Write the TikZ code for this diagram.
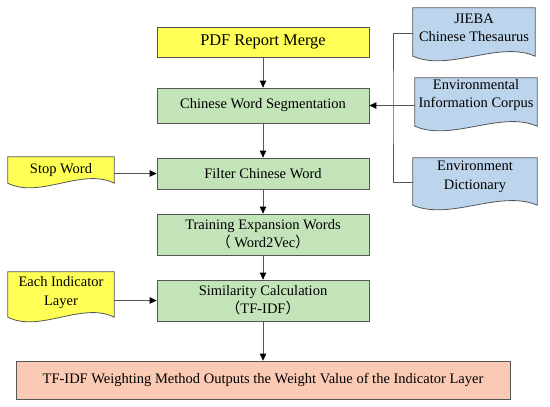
\documentclass[tikz,border=0pt]{standalone}
\usepackage{fontspec}
\setmainfont{Liberation Serif}
\newfontfamily\cjk{Noto Sans CJK SC}
\usetikzlibrary{arrows.meta,calc,backgrounds}
\definecolor{docyellow}{RGB}{255,255,85}
\definecolor{boxgreen}{RGB}{195,228,185}
\definecolor{docblue}{RGB}{189,213,236}
\definecolor{boxsalmon}{RGB}{250,202,180}
\definecolor{linegray}{RGB}{85,85,85}

\begin{document}
\begin{tikzpicture}[x=1pt,y=-1pt,
	box/.style={rectangle,draw=linegray,line width=0.8pt,fill=boxgreen,minimum width=212pt,align=center,inner sep=1pt,font=\fontsize{14.5pt}{18pt}\selectfont},
	doc/.style={rectangle,align=center,inner sep=1pt,font=\fontsize{14.5pt}{18.5pt}\selectfont},
	line/.style={draw=linegray,line width=0.8pt},
	arr/.style={line,-{Triangle[length=7pt,width=6.5pt,black]}}]
	\useasboundingbox (0,0) rectangle (550,407);
	\node [box,fill=docyellow,minimum height=30pt,font=\fontsize{16.4pt}{19pt}\selectfont] (pdf) at (263,42) {PDF Report Merge};
	\node [box,minimum height=35pt] (seg) at (263,105.5) {Chinese Word Segmentation};
	\node [box,minimum height=31pt] (filter) at (263,173.5) {Filter Chinese Word};
	\node [box,minimum height=41pt] (train) at (263,234.5) {Training Expansion Words\\{\cjk （} Word2Vec{\cjk ）}};
	\node [box,minimum height=41pt] (sim) at (263,300.5) {Similarity Calculation\\{\cjk （}TF-IDF{\cjk ）}};
	\node [box,fill=boxsalmon,minimum width=494pt,minimum height=38pt] (out) at (263,380) {TF-IDF Weighting Method Outputs the Weight Value of the Indicator Layer};
	\begin{scope}[every node/.style={doc}]
	\node [minimum width=106pt,minimum height=26pt] (stop) at (61,170) {Stop Word};
	\node [minimum width=106pt,minimum height=41pt] (layer) at (61,292.5) {Each Indicator\\Layer};
	\node [minimum width=122pt,minimum height=40pt] (jieba) at (474,28) {JIEBA\\Chinese Thesaurus};
	\node [minimum width=122pt,minimum height=34pt] (corpus) at (476,95) {Environmental\\Information Corpus};
	\node [minimum width=124pt,minimum height=38pt] (dict) at (475,177) {Environment\\Dictionary};
	\end{scope}
	\begin{scope}[on background layer]
	\foreach \n/\d/\c in {stop/0/docyellow,layer/4/docyellow,jieba/8/docblue,corpus/14/docblue,dict/9/docblue}
		\filldraw [line,fill=\c] (\n.north west) -- (\n.north east) -- ([yshift=-\d pt]\n.south east)
			.. controls ([yshift=-\d pt+16pt]$(\n.south east)!0.3!(\n.south west)$) and ([yshift=-\d pt-16pt]$(\n.south east)!0.7!(\n.south west)$) .. ([yshift=-\d pt]\n.south west) -- cycle;
	\end{scope}
	\coordinate (bus) at (393,105.5);
	\draw [arr] (pdf) -- (seg);
	\draw [arr] (seg) -- (filter);
	\draw [arr] (filter) -- (train);
	\draw [arr] (train) -- (sim);
	\draw [arr] (sim) -- (out);
	\draw [arr] (stop.east |- filter) -- (filter);
	\draw [arr] (layer.east |- sim) -- (sim);
	\draw [line] ([yshift=-5pt]jieba.west) -| (bus) |- ([yshift=-5pt]dict.west);
	\draw [arr,line width=1.1pt] (corpus.west |- seg) -- (seg);
\end{tikzpicture}
\end{document}
